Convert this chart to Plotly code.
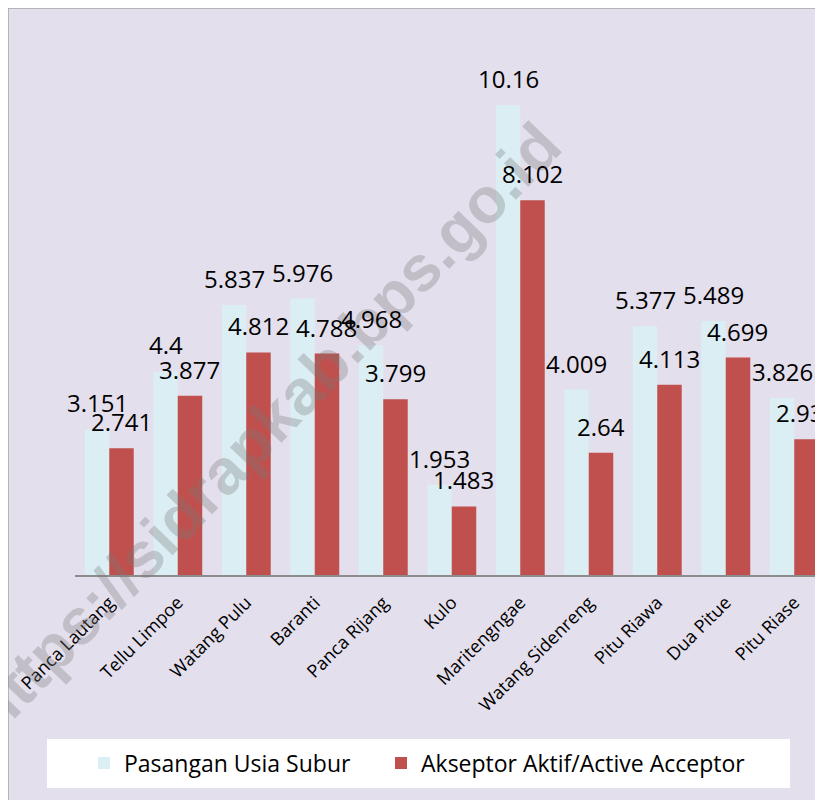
import plotly.graph_objects as go

categories = ["Panca Lautang", "Tellu Limpoe", "Watang Pulu", "Baranti", "Panca Rijang",
              "Kulo", "Maritengngae", "Watang Sidenreng", "Pitu Riawa", "Dua Pitue", "Pitu Riase"]
pus = [3.151, 4.4, 5.837, 5.976, 4.968, 1.953, 10.16, 4.009, 5.377, 5.489, 3.826]
akseptor = [2.741, 3.877, 4.812, 4.788, 3.799, 1.483, 8.102, 2.64, 4.113, 4.699, 2.932]
series_names = ["Pasangan Usia Subur", "Akseptor Aktif/Active Acceptor"]

LIGHT = "#DAEEF3"
RED = "#C0504D"
BG = "#E4DFEC"

OFF = 8  # page body margin
W, H = 823 - OFF, 800 - OFF
ML, MR = 75 - OFF, 0
MT = 43 - OFF
MB = H - (575 - OFF)
PW = W - ML - MR
PH = H - MT - MB

def px_x(p):
    return (p - OFF - ML) / PW

def px_y(p):
    return (H - MB - (p - OFF)) / PH

fig = go.Figure()
fig.add_trace(go.Bar(x=categories, y=pus, name=series_names[0], legend="legend",
                     marker=dict(color=LIGHT, line=dict(width=0))))
fig.add_trace(go.Bar(x=categories, y=akseptor, name=series_names[1], legend="legend2",
                     marker=dict(color=RED, line=dict(width=0))))

# watermark (drawn first so labels sit on top)
annotations = [dict(x=px_x(265), y=px_y(428), xref="paper", yref="paper",
                    xanchor="center", yanchor="middle",
                    text="<b>https://sidrapkab.bps.go.id</b>", showarrow=False, textangle=-46,
                    font=dict(family="Liberation Sans, Arial, sans-serif", size=64,
                              color="rgba(120,120,120,0.32)"))]

label_font = dict(family="Open Sans, Liberation Sans, sans-serif", size=24, color="#000000")
for cat, v in zip(categories, pus):
    annotations.append(dict(x=cat, y=v, xref="x", yref="y", text=str(v), showarrow=False,
                            xshift=-12, yshift=8, yanchor="bottom", xanchor="center", font=label_font))
for cat, v in zip(categories, akseptor):
    annotations.append(dict(x=cat, y=v, xref="x", yref="y", text=str(v), showarrow=False,
                            xshift=12, yshift=8, yanchor="bottom", xanchor="center", font=label_font))

shapes = [
    dict(type="rect", xref="paper", yref="paper", x0=px_x(8), x1=px_x(900), y0=px_y(900), y1=px_y(8),
         fillcolor=BG, line=dict(color="#A6A6A6", width=1.5), layer="below"),
    dict(type="rect", xref="paper", yref="paper", x0=px_x(47), x1=px_x(790), y0=px_y(788), y1=px_y(739),
         fillcolor="#FFFFFF", line=dict(width=0), layer="below"),
]

legend_font = dict(family="Open Sans, sans-serif", size=23, color="#000000")
legend_y = 1 - (763 - OFF) / H

fig.update_layout(
    width=W, height=H,
    margin=dict(l=ML, r=MR, t=MT, b=MB, pad=0),
    paper_bgcolor=BG,
    plot_bgcolor="rgba(0,0,0,0)",
    barmode="group", bargap=0.285, bargroupgap=0,
    showlegend=True,
    legend=dict(orientation="h", xref="container", yref="container",
                x=(84 - OFF) / W, y=legend_y, xanchor="left", yanchor="middle",
                bgcolor="rgba(0,0,0,0)", font=legend_font, itemwidth=30),
    legend2=dict(orientation="h", xref="container", yref="container",
                 x=(381 - OFF) / W, y=legend_y, xanchor="left", yanchor="middle",
                 bgcolor="rgba(0,0,0,0)", font=legend_font, itemwidth=30),
    xaxis=dict(range=[-0.5, -0.5 + PW / 68.5], showline=True, linecolor="#8C8C8C", linewidth=2,
               ticks="", tickangle=-45, showgrid=False, ticklabelstandoff=8,
               tickfont=dict(family="Open Sans, sans-serif", size=18, color="#000000")),
    yaxis=dict(range=[0, PH / 46.26], visible=False, showgrid=False, zeroline=False),
    annotations=annotations,
    shapes=shapes,
    font=dict(family="Open Sans, sans-serif"),
)

fig.write_html("out.html")
